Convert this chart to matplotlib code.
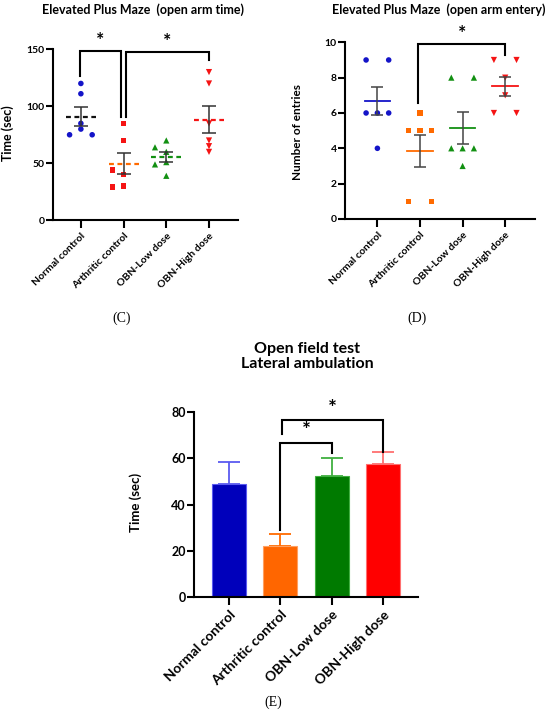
import numpy as np
import matplotlib
matplotlib.use('agg')
import matplotlib.pyplot as plt

plt.rcParams['font.family'] = ['Lato', 'DejaVu Sans']
plt.rcParams['font.weight'] = 'bold'

groups = ['Normal control', 'Arthritic control', 'OBN-Low dose', 'OBN-High dose']

# (C) open arm time (sec), one value per animal
arm_time_normal = [120, 111, 85, 80, 75, 75]
arm_time_arthritic = [85, 70, 40, 44, 30, 29]
arm_time_low = [70, 60, 39, 64, 51, 49]
arm_time_high = [130, 120, 85, 70, 65, 60]

# (D) open arm entries
entries_normal = [9, 9, 6, 6, 6, 4]
entries_arthritic = [6, 5, 5, 5, 1, 1]
entries_low = [8, 8, 4, 4, 4, 3]
entries_high = [9, 9, 8, 7, 6, 6]

# (E) lateral ambulation, mean and SEM
ambulation_mean = [48.7, 22.0, 52.3, 57.6]
ambulation_sem = [9.6, 5.3, 7.7, 5.1]

point_colors = ['#1414c8', '#f51414', '#129012', '#f51414']
markers = ['o', 's', '^', 'v']
dash_colors = ['#111111', '#ff6a00', '#129012', '#f51414']
line_colors = ['#1414c8', '#ff6a00', '#129012', '#f51414']
bar_colors = ['#0000bb', '#ff6600', '#007a00', '#ff0000']
bar_edges = ['#5a5af0', '#ffa060', '#40b040', '#ff7070']


def style_axes(ax, fs_tick, fs_cat):
    for s in ['top', 'right']:
        ax.spines[s].set_visible(False)
    for s in ['left', 'bottom']:
        ax.spines[s].set_linewidth(1.5)
    ax.tick_params(axis='y', length=5, width=1.5, labelsize=fs_tick, pad=1)
    ax.tick_params(axis='x', length=6, width=1.5, labelsize=fs_cat, pad=2)
    ax.set_xticks(range(len(groups)))
    ax.set_xticklabels(groups, rotation=45, ha='right', rotation_mode='anchor')
    for lab in ax.get_yticklabels() + ax.get_xticklabels():
        lab.set_fontweight('bold')


def swarm_x(ax, values, center, step_px=11.3, gap_px=5.5):
    # identical values spread symmetrically, the rest go centre first, then sideways
    bb = ax.get_window_extent()
    ppu_y = bb.height / (ax.get_ylim()[1] - ax.get_ylim()[0])
    ppu_x = bb.width / (ax.get_xlim()[1] - ax.get_xlim()[0])
    step = step_px / ppu_x
    xs = [None] * len(values)
    placed = []
    for v in sorted(set(values)):
        idx = [i for i, w in enumerate(values) if w == v]
        n = len(idx)
        if n > 1:
            if n % 2 == 0:
                offs = [(k - n // 2 + (0 if k < n // 2 else 1)) * step for k in range(n)]
            else:
                offs = [(k - n // 2) * step for k in range(n)]
            for i, o in zip(idx, offs):
                xs[i] = center + o
                placed.append((xs[i], v))
    for i, v in enumerate(values):
        if xs[i] is not None:
            continue
        for o in [0, -step, step, -2 * step, 2 * step]:
            ok = True
            for px, pv in placed:
                if abs(px - (center + o)) * ppu_x < gap_px and abs(pv - v) * ppu_y < gap_px:
                    ok = False
                    break
            if ok:
                xs[i] = center + o
                break
        placed.append((xs[i], v))
    return xs


def bracket(ax, x1, x2, top, b1, b2, star_y, fs):
    ax.plot([x1, x1, x2, x2], [b1, top, top, b2], color='black', lw=1.5,
            clip_on=False, solid_joinstyle='miter')
    ax.text((x1 + x2) / 2, star_y, '*', ha='center', va='center',
            fontsize=fs, fontweight='bold')


fig = plt.figure(figsize=(5.5, 7.11), dpi=100)

# ---------------- (C) ----------------
axC = fig.add_axes([0.0958, 0.6902, 0.337, 0.2405])
axC.set_xlim(-0.66, 3.68)
axC.set_ylim(0, 150)
axC.set_yticks([0, 50, 100, 150])
style_axes(axC, 7.5, 7.5)
axC.set_ylabel('Time (sec)', fontsize=9, fontweight='bold')
axC.yaxis.set_label_coords(-0.209, 0.51)

arm_time = [arm_time_normal, arm_time_arthritic, arm_time_low, arm_time_high]
for g, vals in enumerate(arm_time):
    xs = swarm_x(axC, vals, g)
    axC.scatter(xs, vals, s=16 if markers[g] in 'o s' else 20, marker=markers[g],
                color=point_colors[g], edgecolors='none', zorder=3)
    m = np.mean(vals)
    sem = np.std(vals, ddof=1) / np.sqrt(len(vals))
    axC.plot([g - 0.35, g + 0.35], [m, m], ls=(0, (2.2, 1.6)), lw=1.6,
             color=dash_colors[g], zorder=4)
    axC.errorbar(g, m, yerr=sem, fmt='none', ecolor='#333333', elinewidth=1.1,
                 capsize=4.8, capthick=1.1, zorder=4)

bracket(axC, -0.03, 0.94, 148.8, 126.6, 91, 158, 14)
bracket(axC, 1.05, 3.0, 147.4, 91, 140.6, 157, 14)

# ---------------- (D) ----------------
axD = fig.add_axes([0.6273, 0.692, 0.3455, 0.2485])
axD.set_xlim(-0.76, 3.7)
axD.set_ylim(0, 10)
axD.set_yticks([0, 2, 4, 6, 8, 10])
style_axes(axD, 7.5, 7.5)
axD.set_ylabel('Number of entries', fontsize=8.5, fontweight='bold')
axD.yaxis.set_label_coords(-0.221, 0.49)

entries = [entries_normal, entries_arthritic, entries_low, entries_high]
for g, vals in enumerate(entries):
    xs = swarm_x(axD, vals, g)
    axD.scatter(xs, vals, s=16 if markers[g] in 'o s' else 20, marker=markers[g],
                color=point_colors[g] if g != 1 else '#ff6a00', edgecolors='none', zorder=3)
    m = np.mean(vals)
    sem = np.std(vals, ddof=1) / np.sqrt(len(vals))
    axD.plot([g - 0.3, g + 0.3], [m, m], lw=1.3, color=line_colors[g], zorder=4)
    axD.errorbar(g, m, yerr=sem, fmt='none', ecolor='#444444', elinewidth=1.1,
                 capsize=4.3, capthick=1.1, zorder=4)

bracket(axD, 0.96, 3.0, 9.89, 6.58, 9.28, 10.5, 14)

# ---------------- (E) ----------------
axE = fig.add_axes([0.3527, 0.1599, 0.4073, 0.261])
axE.set_xlim(-0.68, 3.68)
axE.set_ylim(0, 80)
axE.set_yticks([0, 20, 40, 60, 80])
style_axes(axE, 9, 10)
axE.set_ylabel('Time (sec)', fontsize=9.5, fontweight='bold')
axE.yaxis.set_label_coords(-0.232, 0.51)

x = np.arange(len(groups))
axE.bar(x, ambulation_mean, width=0.66, color=bar_colors, edgecolor=bar_edges,
        linewidth=0.8, zorder=2)
for g in range(len(groups)):
    axE.errorbar(g, ambulation_mean[g], yerr=[[0], [ambulation_sem[g]]], fmt='none',
                 ecolor=bar_edges[g] if g != 1 else '#ff6a00', elinewidth=1.3,
                 capsize=8, capthick=1.3, zorder=1)

bracket(axE, 1.0, 2.0, 66.6, 29, 62.3, 71.6, 15)
bracket(axE, 1.03, 3.0, 76.4, 70.4, 62.7, 81.2, 15)

# ---------------- titles / captions ----------------
fig.text(0.26, 1 - 9.5 / 711, 'Elevated Plus Maze  (open arm time)', ha='center',
         va='center', fontsize=9, fontweight='bold')
fig.text(439 / 550, 1 - 10 / 711, 'Elevated Plus Maze  (open arm entery)', ha='center',
         va='center', fontsize=9, fontweight='bold')
fig.text(307 / 550, 1 - 353 / 711, 'Open field test', ha='center', va='baseline',
         fontsize=11.5, fontweight='bold')
fig.text(307 / 550, 1 - 368 / 711, 'Lateral ambulation', ha='center', va='baseline',
         fontsize=11.5, fontweight='bold')

for lab, xp, yp in [('(C)', 122, 318), ('(D)', 417, 318), ('(E)', 273, 702)]:
    fig.text(xp / 550, 1 - yp / 711, lab, ha='center', va='center', fontsize=10,
             family='Liberation Serif', fontweight='normal')

fig.savefig('out.png', dpi=100)
